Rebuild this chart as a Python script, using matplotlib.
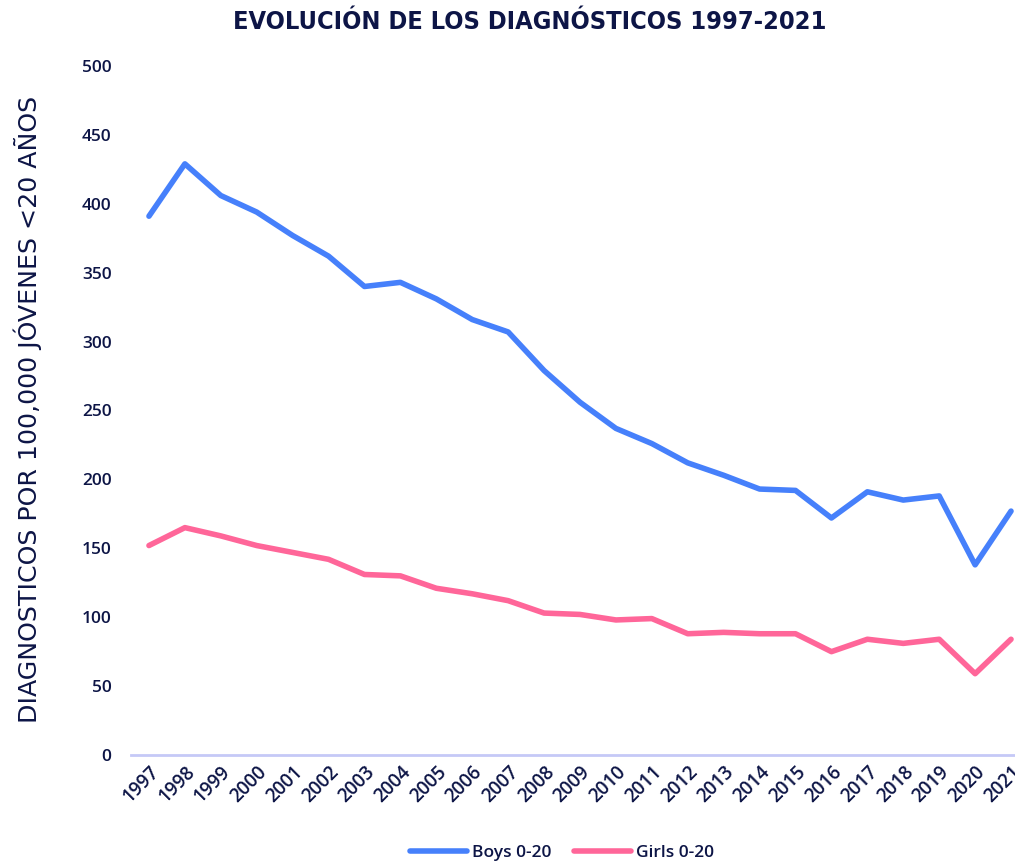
import matplotlib
matplotlib.use("Agg")
import matplotlib.pyplot as plt

years = list(range(1997, 2022))
boys = [391, 429, 406, 394, 377, 362, 340, 343, 331, 316, 307, 279, 256, 237, 226,
        212, 203, 193, 192, 172, 191, 185, 188, 138, 177]
girls = [152, 165, 159, 152, 147, 142, 131, 130, 121, 117, 112, 103, 102, 98, 99,
         88, 89, 88, 88, 75, 84, 81, 84, 59, 84]
yticks = [0, 50, 100, 150, 200, 250, 300, 350, 400, 450, 500]

navy = "#0d1546"
blue = "#4680fb"
pink = "#ff6699"

plt.rcParams['font.family'] = ['Open Sans', 'DejaVu Sans']

W, H = 1015, 864
fig = plt.figure(figsize=(W/100, H/100), dpi=100)
left_px, right_px = 131, 1029
top_px, bot_px = 66, 755
ax = fig.add_axes([left_px/W, 1-bot_px/H, (right_px-left_px)/W, (bot_px-top_px)/H])

ax.plot(years, boys, color=blue, lw=4, solid_joinstyle='round', solid_capstyle='round', label='Boys 0-20')
ax.plot(years, girls, color=pink, lw=4, solid_joinstyle='round', solid_capstyle='round', label='Girls 0-20')

ax.set_xlim(1996.5, 2021.5)
ax.set_ylim(0, 500)
ax.set_yticks(yticks)
ax.set_xticks(years)
ax.set_xticklabels([str(y) for y in years], rotation=45, ha='right', va='top',
                   rotation_mode='anchor', fontsize=13.5, color=navy, fontweight='semibold')
ax.tick_params(axis='y', labelsize=12.5, colors=navy, length=0, pad=14)
ax.tick_params(axis='x', length=0, pad=5)
for lab in ax.get_yticklabels():
    lab.set_color(navy)
    lab.set_fontweight('semibold')

for s in ['top', 'right', 'left']:
    ax.spines[s].set_visible(False)
ax.spines['bottom'].set_color('#c5c9f7')
ax.spines['bottom'].set_linewidth(2)

ax.set_ylabel('DIAGNOSTICOS POR 100,000 JÓVENES <20 AÑOS', fontsize=18.2, color=navy,
              fontfamily=['DejaVu Sans'])
ax.yaxis.set_label_coords(42/W, (1-409/H), transform=fig.transFigure)

fig.text(530/W, 1-22/H, 'EVOLUCIÓN DE LOS DIAGNÓSTICOS 1997-2021', ha='center', va='center',
         fontsize=18.2, color=navy, fontfamily=['DejaVu Sans'], fontstretch='condensed', fontweight='bold')

leg = fig.legend(loc='center', bbox_to_anchor=(562/W, 1-853/H), ncol=2, frameon=False,
                 handlelength=3.3, handletextpad=0.3, columnspacing=1.3,
                 prop={'weight': 'semibold', 'size': 12.5})
for t in leg.get_texts():
    t.set_color(navy)

fig.savefig('out.png', dpi=100)
